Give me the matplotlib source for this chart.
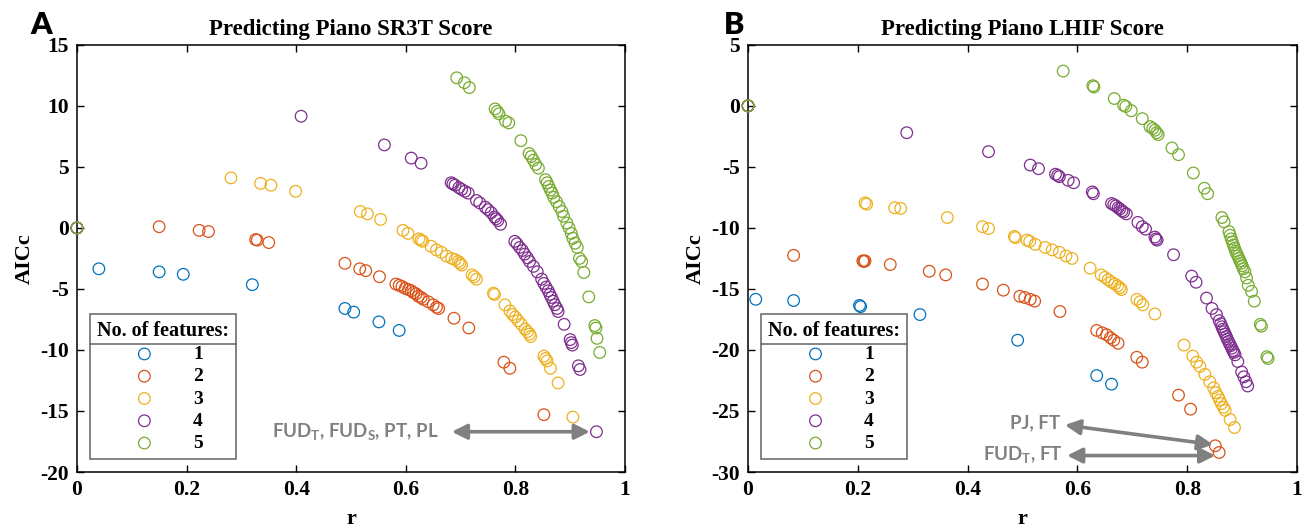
import numpy as np
import matplotlib
matplotlib.use('Agg')
import matplotlib.pyplot as plt
from matplotlib.lines import Line2D

plt.rcParams['axes.unicode_minus'] = False
plt.rcParams['mathtext.fontset'] = 'custom'
plt.rcParams['mathtext.rm'] = 'Lato:bold'
plt.rcParams['mathtext.it'] = 'Lato:bold'
plt.rcParams['mathtext.bf'] = 'Lato:bold'
plt.rcParams['mathtext.default'] = 'rm'

serif = 'Liberation Serif'
sans = 'Lato'

colors = ['#0072BD', '#D95319', '#EDB120', '#7E2F8E', '#77AC30']
n_features = ['1', '2', '3', '4', '5']

# ---- panel A: SR3T ----
a_r1 = [0, 0.04, 0.15, 0.194, 0.32, 0.489, 0.505, 0.551, 0.588]
a_aic1 = [0, -3.35, -3.6, -3.8, -4.65, -6.6, -6.9, -7.7, -8.4]

a_r2 = [0, 0.15, 0.223, 0.24, 0.326, 0.329, 0.35, 0.489, 0.516, 0.527, 0.552, 0.582, 0.588,
        0.593, 0.599, 0.605, 0.61, 0.614, 0.619, 0.623, 0.628, 0.632, 0.641, 0.65, 0.656, 0.66,
        0.688, 0.715, 0.779, 0.79, 0.852]
a_aic2 = [0, 0.1, -0.2, -0.3, -0.95, -1.0, -1.2, -2.9, -3.35, -3.5, -4.0, -4.6, -4.7,
          -4.8, -4.95, -5.05, -5.15, -5.3, -5.4, -5.6, -5.7, -5.85, -6.05, -6.3, -6.5, -6.6,
          -7.4, -8.2, -11.0, -11.5, -15.3]

a_r3 = [0, 0.281, 0.335, 0.354, 0.399, 0.517, 0.53, 0.554, 0.595, 0.604, 0.624, 0.628, 0.631,
        0.646, 0.656, 0.665, 0.674, 0.684, 0.69, 0.696, 0.699, 0.702, 0.721, 0.725, 0.729, 0.76,
        0.762, 0.781, 0.79, 0.795, 0.8, 0.805, 0.811, 0.818, 0.822, 0.826, 0.828, 0.852, 0.855,
        0.858, 0.864, 0.878, 0.905]
a_aic3 = [0, 4.1, 3.65, 3.5, 3.0, 1.35, 1.15, 0.7, -0.2, -0.45, -0.9, -1.0, -1.1,
          -1.5, -1.8, -2.0, -2.3, -2.5, -2.6, -2.75, -2.9, -3.05, -3.85, -4.0, -4.2, -5.35,
          -5.45, -6.3, -6.8, -7.1, -7.3, -7.6, -7.9, -8.3, -8.5, -8.7, -8.9, -10.5, -10.7,
          -10.9, -11.5, -12.7, -15.5]

a_r4 = [0, 0.409, 0.561, 0.61, 0.628, 0.683, 0.686, 0.69, 0.697, 0.702, 0.708, 0.714, 0.729,
        0.735, 0.745, 0.75, 0.756, 0.762, 0.765, 0.768, 0.773, 0.799, 0.803, 0.808, 0.813, 0.817,
        0.822, 0.826, 0.833, 0.84, 0.848, 0.852, 0.856, 0.86, 0.863, 0.866, 0.869, 0.872, 0.876,
        0.878, 0.889, 0.9, 0.902, 0.904, 0.915, 0.918, 0.948]
a_aic4 = [0, 9.15, 6.8, 5.72, 5.3, 3.7, 3.6, 3.5, 3.3, 3.15, 3.0, 2.85, 2.25,
          2.05, 1.7, 1.5, 1.25, 0.9, 0.75, 0.6, 0.3, -1.1, -1.3, -1.6, -1.85, -2.15,
          -2.45, -2.75, -3.15, -3.6, -4.2, -4.55, -4.85, -5.15, -5.45, -5.7, -6.0, -6.3, -6.6,
          -6.85, -7.9, -9.15, -9.4, -9.6, -11.3, -11.6, -16.7]

a_r5 = [0, 0.693, 0.707, 0.716, 0.763, 0.767, 0.77, 0.782, 0.788, 0.81, 0.825, 0.829, 0.833,
        0.837, 0.842, 0.855, 0.858, 0.861, 0.864, 0.867, 0.87, 0.875, 0.88, 0.885, 0.888, 0.894,
        0.898, 0.902, 0.905, 0.909, 0.913, 0.917, 0.921, 0.925, 0.934, 0.945, 0.947, 0.949, 0.954]
a_aic5 = [0, 12.3, 11.9, 11.5, 9.75, 9.55, 9.35, 8.75, 8.6, 7.15, 6.1, 5.85, 5.55,
          5.2, 4.9, 3.95, 3.7, 3.4, 3.1, 2.85, 2.5, 2.15, 1.75, 1.35, 0.95, 0.4,
          0.0, -0.45, -0.85, -1.25, -1.6, -2.5, -2.75, -3.65, -5.65, -8.0, -8.2, -9.05, -10.2]

# ---- panel B: LHIF ----
b_r1 = [0, 0.014, 0.083, 0.203, 0.205, 0.313, 0.491, 0.635, 0.662]
b_aic1 = [0, -15.85, -15.95, -16.35, -16.45, -17.1, -19.2, -22.1, -22.8]

b_r2 = [0, 0.083, 0.209, 0.211, 0.213, 0.259, 0.33, 0.36, 0.427, 0.465, 0.495, 0.504, 0.514,
        0.522, 0.568, 0.635, 0.645, 0.653, 0.66, 0.666, 0.674, 0.708, 0.718, 0.784, 0.806,
        0.851, 0.858]
b_aic2 = [0, -12.25, -12.7, -12.75, -12.7, -13.0, -13.55, -13.85, -14.6, -15.1, -15.6, -15.7, -15.85,
          -16.0, -16.85, -18.4, -18.6, -18.75, -19.0, -19.2, -19.45, -20.6, -21.0, -23.7, -24.85,
          -27.85, -28.4]

b_r3 = [0, 0.213, 0.216, 0.267, 0.278, 0.363, 0.427, 0.438, 0.485, 0.487, 0.508, 0.513, 0.523,
        0.541, 0.554, 0.567, 0.579, 0.59, 0.623, 0.643, 0.65, 0.656, 0.662, 0.668, 0.673, 0.677,
        0.68, 0.708, 0.714, 0.719, 0.741, 0.794, 0.81, 0.817, 0.823, 0.832, 0.841, 0.848, 0.852,
        0.856, 0.859, 0.862, 0.866, 0.869, 0.878, 0.886]
b_aic3 = [0, -7.95, -8.05, -8.35, -8.4, -9.15, -9.9, -10.05, -10.7, -10.8, -11.0, -11.1, -11.35,
          -11.6, -11.8, -12.0, -12.3, -12.5, -13.3, -13.85, -14.05, -14.25, -14.45, -14.6, -14.75, -14.9,
          -15.05, -15.85, -16.05, -16.3, -17.05, -19.6, -20.5, -21.0, -21.35, -22.0, -22.6, -23.1, -23.5,
          -23.8, -24.1, -24.4, -24.7, -24.95, -25.7, -26.35]

b_r4 = [0, 0.289, 0.438, 0.514, 0.529, 0.56, 0.564, 0.567, 0.583, 0.593, 0.627, 0.629, 0.662,
        0.666, 0.67, 0.674, 0.677, 0.681, 0.684, 0.689, 0.71, 0.718, 0.724, 0.741, 0.743, 0.745,
        0.775, 0.808, 0.816, 0.835, 0.845, 0.853, 0.858, 0.861, 0.863, 0.865, 0.867, 0.869, 0.871,
        0.873, 0.875, 0.877, 0.879, 0.881, 0.883, 0.885, 0.887, 0.892, 0.899, 0.903, 0.907, 0.91]
b_aic4 = [0, -2.2, -3.75, -4.85, -5.15, -5.6, -5.7, -5.8, -6.1, -6.3, -7.05, -7.2, -8.0,
          -8.1, -8.2, -8.35, -8.45, -8.6, -8.7, -8.85, -9.55, -9.9, -10.1, -10.75, -10.9, -11.0,
          -12.2, -13.95, -14.45, -15.75, -16.6, -17.1, -17.6, -17.85, -18.1, -18.3, -18.5, -18.7, -18.9,
          -19.1, -19.3, -19.5, -19.65, -19.85, -20.05, -20.2, -20.4, -20.95, -21.8, -22.2, -22.6, -22.95]

b_r5 = [0, 0.574, 0.628, 0.630, 0.667, 0.684, 0.688, 0.698, 0.718, 0.732, 0.737, 0.741, 0.744,
        0.747, 0.772, 0.784, 0.811, 0.831, 0.837, 0.863, 0.867, 0.876, 0.878, 0.88, 0.882, 0.884,
        0.886, 0.888, 0.89, 0.892, 0.894, 0.896, 0.898, 0.9, 0.902, 0.905, 0.908, 0.911, 0.917,
        0.922, 0.933, 0.935, 0.945, 0.947]
b_aic5 = [0, 2.85, 1.65, 1.55, 0.6, 0.05, -0.05, -0.4, -1.05, -1.7, -1.85, -2.0, -2.2,
          -2.35, -3.45, -4.0, -5.5, -6.75, -7.2, -9.15, -9.5, -10.3, -10.6, -10.9, -11.15, -11.4,
          -11.65, -11.9, -12.1, -12.3, -12.5, -12.7, -12.9, -13.1, -13.35, -13.6, -14.1, -14.7, -15.2,
          -16.0, -17.9, -18.05, -20.55, -20.7]

a_series = [(a_r1, a_aic1), (a_r2, a_aic2), (a_r3, a_aic3), (a_r4, a_aic4), (a_r5, a_aic5)]
b_series = [(b_r1, b_aic1), (b_r2, b_aic2), (b_r3, b_aic3), (b_r4, b_aic4), (b_r5, b_aic5)]

fig = plt.figure(figsize=(13.11, 5.30), dpi=100)
ax_a = fig.add_axes([0.0587, 0.1094, 0.418, 0.806])
ax_b = fig.add_axes([0.5706, 0.1094, 0.4188, 0.806])

grey = '#808080'


def draw_panel(ax, series, title, ylim, yticks):
    for (r, aic), c, lab in zip(series, colors, n_features):
        ax.scatter(r, aic, s=70, facecolors='none', edgecolors=c, linewidths=0.9, label=lab,
                   zorder=3, clip_on=False)
    ax.set_xlim(0, 1)
    ax.set_ylim(*ylim)
    ax.set_xticks([0, 0.2, 0.4, 0.6, 0.8, 1])
    ax.set_xticklabels(['0', '0.2', '0.4', '0.6', '0.8', '1'])
    ax.set_yticks(yticks)
    ax.set_yticklabels([str(t) for t in yticks])
    ax.tick_params(direction='in', top=True, right=True, length=5, width=1, pad=6)
    for lbl in ax.get_xticklabels() + ax.get_yticklabels():
        lbl.set_fontfamily(serif)
        lbl.set_fontweight('bold')
        lbl.set_fontsize(15.5)
    for sp in ax.spines.values():
        sp.set_linewidth(1.1)
    ax.set_title(title, fontfamily=serif, fontweight='bold', fontsize=16.5, pad=7)
    ax.set_xlabel('r', fontfamily=serif, fontweight='bold', fontsize=16, labelpad=6)
    ax.set_ylabel('AICc', fontfamily=serif, fontweight='bold', fontsize=16, labelpad=4)
    leg = ax.legend(title='No. of features:', loc='upper left', bbox_to_anchor=(0.024, 0.37),
                    borderaxespad=0, fancybox=False, edgecolor='#6e6e6e', framealpha=1,
                    handletextpad=1.4, labelspacing=0.24, borderpad=0.35, handlelength=2.2,
                    prop={'family': serif, 'weight': 'bold', 'size': 14})
    leg.get_title().set_fontfamily(serif)
    leg.get_title().set_fontweight('bold')
    leg.get_title().set_fontsize(14.5)
    leg.get_frame().set_linewidth(1.2)
    return leg


def arrow(ax, x0, y0, x1, y1):
    ax.annotate('', xy=(x1, y1), xytext=(x0, y0),
                arrowprops=dict(arrowstyle='<|-|>,head_length=0.9,head_width=0.45',
                                color=grey, lw=2.6, shrinkA=0, shrinkB=0), zorder=4)


leg_a = draw_panel(ax_a, a_series, 'Predicting Piano SR3T Score', (-20, 15), [15, 10, 5, 0, -5, -10, -15, -20])
leg_b = draw_panel(ax_b, b_series, 'Predicting Piano LHIF Score', (-30, 5), [5, 0, -5, -10, -15, -20, -25, -30])

arrow(ax_a, 0.684, -16.7, 0.936, -16.7)
ax_a.text(0.66, -16.7, 'FUD$_T$, FUD$_S$, PT, PL', ha='right', va='center', color=grey,
          fontfamily=sans, fontweight='bold', fontsize=13.5)

arrow(ax_b, 0.577, -26.15, 0.847, -27.75)
arrow(ax_b, 0.581, -28.65, 0.851, -28.65)
ax_b.text(0.568, -26.0, 'PJ, FT', ha='right', va='center', color=grey,
          fontfamily=sans, fontweight='bold', fontsize=13.5)
ax_b.text(0.574, -28.6, 'FUD$_T$, FT', ha='right', va='center', color=grey,
          fontfamily=sans, fontweight='bold', fontsize=13.5)

fig.text(0.023, 0.935, 'A', fontfamily=sans, fontweight='heavy', fontsize=22, ha='left', va='baseline')
fig.text(0.552, 0.935, 'B', fontfamily=sans, fontweight='heavy', fontsize=22, ha='left', va='baseline')

# separator line under the legend title
fig.canvas.draw()
inv = fig.transFigure.inverted()
for leg in [leg_a, leg_b]:
    fb = leg.get_frame().get_window_extent()
    tb = leg.get_title().get_window_extent()
    yline = tb.y0 - 3
    p0 = inv.transform((fb.x0, yline))
    p1 = inv.transform((fb.x1, yline))
    fig.add_artist(Line2D([p0[0], p1[0]], [p0[1], p1[1]], color='#6e6e6e', lw=1.2))

fig.savefig('out.png', dpi=100)
